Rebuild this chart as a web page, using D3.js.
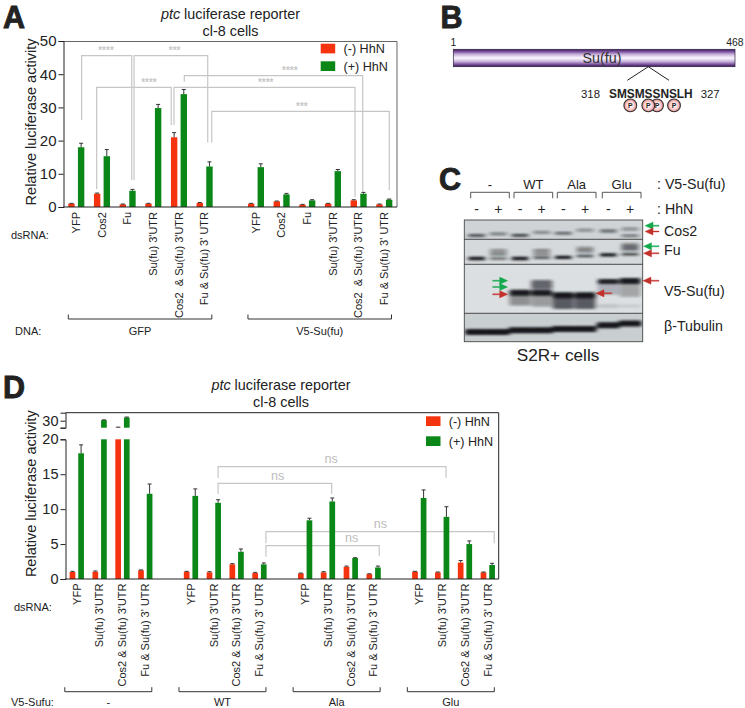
<!DOCTYPE html>
<html><head><meta charset="utf-8">
<script src="https://cdn.jsdelivr.net/npm/d3@7"></script>
<style>
html,body{margin:0;padding:0;background:#fff}
svg{display:block}
text{font-family:"Liberation Sans",Arial,sans-serif;fill:#222}
</style></head><body><svg id="c" width="745" height="708" viewBox="0 0 745 708"></svg>
<script>
// ---------- Panel A data ----------
const aLabels=["YFP","Cos2","Fu","Su(fu) 3'UTR","Cos2  & Su(fu) 3'UTR","Fu & Su(fu) 3' UTR"];
const aSlots=[0,1,2,3,4,5,7,8,9,10,11,12];
const aMinus=[1,4,0.8,1,21,1.2,1,1.7,0.7,1,2,0.8];
const aMinusErr=[0.1,0.2,0.1,0.1,1.4,0.15,0.1,0.1,0.1,0.1,0.2,0.1];
const aPlus=[18,15.3,4.9,29.8,34,12.2,12,3.8,2,10.8,4,2.2];
const aPlusErr=[1.2,2,0.4,1.1,1.4,1.4,1,0.3,0.2,0.5,0.4,0.2];
const aGroups=[["GFP",0,5],["V5-Su(fu)",7,12]];
// bracket: left slot, side, left foot value, top value, right slot, side, right foot value, mark, mark slot
const aBrackets=[
 [0,1.1,26.2,45.6,2,0.85,8.1,"****",1.157],
 [2,1.33,8.1,45.6,5,0.64,19.4,"***",3.83],
 [1,-1.1,5.4,36.05,4,-1.6,24.7,"****",2.83],
 [4,-1.03,24.7,36.05,11,-0.75,3,"****",7.38],
 [4,1.1,37.7,39.55,11,0.85,4.6,"****",8.32],
 [5,1.47,19.4,28.8,12,1.03,5.1,"***",8.79]
];
// ---------- Panel D data ----------
const dLabels=["YFP","Su(fu) 3'UTR","Cos2 & Su(fu) 3'UTR","Fu & Su(fu) 3' UTR"];
const dSlots=[0,1,2,3,5,6,7,8,10,11,12,13,15,16,17,18];
const dMinus=[1,1.05,25.2,1.25,1.05,0.95,2.1,0.85,0.8,0.95,1.75,0.7,1.05,0.95,2.35,0.95];
const dMinusErr=[0.1,0.1,0.2,0.05,0.05,0.1,0.1,0.1,0.05,0.1,0.1,0.05,0.05,0.05,0.3,0.05];
const dPlus=[18,30.4,32.3,12.2,11.9,10.9,3.9,2.1,8.4,11.1,3,1.65,11.6,8.9,5,2];
const dPlusErr=[1.2,0.2,0.3,1.4,1,0.45,0.4,0.2,0.3,0.5,0.05,0.2,1.15,1.45,0.45,0.25];
const dGroups=[["-",0,3],["WT",5,8],["Ala",10,13],["Glu",15,18]];
const dBrackets=[
 [6,1,14.46,16.08,16,0.9,14.46,"ns",11.14],
 [6,1,12.17,13.7,11,0.87,12.17,"ns",8.8],
 [8,1.5,5.11,6.77,18,1.5,5.11,"ns",13.3],
 [8,1.5,3.19,4.77,13,1.3,3.34,"ns",12.04]
];
const legendNames=["(-) HhN","(+) HhN"];
// ---------- Panel B data ----------
const seqResidues="SMSMSSNSLH";
const phosphoSites=[630.3,674,657,648.3];
// ---------- Panel C data ----------
const lanes=[0,1,2,3,4,5,6,7];
const laneCentres=[476.7,498.3,520,541.7,563.3,585,608.3,630];
const cHeads=["-","WT","Ala","Glu"];
// rows: [y0,y1]; bands: lane, fraction of row, height, opacity
const rowEdges=[[220,239.3],[239.3,264.3],[264.3,313.3],[313.3,341.7]];
const cos2Bands=[[0,.8,2.6,.8],[1,.72,2.8,.5],[2,.8,2.8,.8],[3,.64,2.8,.45],[4,.69,2.6,.65],[5,.53,3,.4],[6,.57,2.8,.6],[7,.47,3,.4],[7,.82,2,.65]];
const fuBands=[[0,.77,3.6,1],[1,.45,3,.4],[1,.59,3,.5],[1,.77,2.6,.6],[2,.77,3.4,1],[3,.45,3,.45],[3,.59,3,.45],[3,.74,2.6,.7],
 [4,.72,3.2,1],[5,.36,3,.4],[5,.47,3,.45],[5,.67,2.6,.75],[6,.62,3.2,1],[7,.24,4,.5],[7,.38,4,.55],[7,.6,2.6,.8]];
const v5Bands=[[2,.58,6,.98],[2,.72,12,.4],[3,.58,6,.98],[3,.41,9,.6],[3,.74,12,.35],[4,.63,6,1],[4,.77,14,.65],[5,.63,6,1],[5,.77,14,.65],
 [6,.35,5,.95],[6,.5,12,.22],[7,.34,6,.98],[7,.52,14,.3],[6,.85,4,.12],[7,.85,3,.1]];
const tubBands=[[0,.66,6,1],[1,.66,6,1],[2,.6,6,1],[3,.6,6,1],[4,.55,6,1],[5,.55,6,1],[6,.42,6,1],[7,.36,6,1]];

const RED="#f5330e",GREEN="#0a8717",GREY="#c6c6c6";
const FONT_TICK=11;
const svg=d3.select("#c");
const defs=svg.append("defs");

function txt(g,x,y,s,size,o={}){
  const t=g.append("text").attr("x",x).attr("y",y).attr("font-size",size)
   .attr("text-anchor",o.anchor||"start").text(s);
  if(o.weight)t.attr("font-weight",o.weight);
  if(o.fill)t.style("fill",o.fill);
  return t;
}
function panelLetter(g,x,y,s){
  txt(g,x,y,s,30.5,{weight:"bold"}).attr("stroke","#222").attr("stroke-width",.9);
}
function title(g,cx,y1,y2){
  const t=g.append("text").attr("x",cx).attr("y",y1).attr("text-anchor","middle").attr("font-size",14.4);
  t.append("tspan").attr("font-style","italic").text("ptc");
  t.append("tspan").text(" luciferase reporter");
  txt(g,cx,y2,"cl-8 cells",14.4,{anchor:"middle"});
}
function bars(g,slots,vals,errs,color,off,w,x,y){
  const idx=d3.range(vals.length);
  g.append("g").selectAll("rect").data(idx).join("rect")
   .attr("x",i=>x(slots[i])+off-w/2).attr("width",w)
   .attr("y",i=>y(vals[i])).attr("height",i=>y(0)-y(vals[i])).attr("fill",color);
  const e=g.append("g").attr("stroke","#333").attr("stroke-width",1).attr("fill","none");
  e.selectAll("path").data(idx).join("path").attr("d",i=>{
    const c=x(slots[i])+off,t=y(vals[i]+errs[i]),b=y(vals[i]);
    return `M${c},${b}V${t}M${c-2},${t}H${c+2}`;
  });
}
function bracketMarks(g,list,x,y,off,markFn){
  const b=g.append("g");
  b.selectAll("path").data(list).join("path")
   .attr("fill","none").attr("stroke",GREY).attr("stroke-width",1.2)
   .attr("d",d=>{
     const xa=x(d[0])+d[1]*off,xb=x(d[4])+d[5]*off;
     return `M${xa},${y(d[2])}V${y(d[3])}H${xb}V${y(d[6])}`;
   });
  list.forEach(d=>markFn(b,x(d[8]),y(d[3]),d[7]));
}
function catLabels(g,slots,labels,x,y0){
  const n=labels.length;
  g.append("g").selectAll("text").data(slots).join("text")
   .attr("transform",(s)=>`translate(${x(s)+3.8},${y0}) rotate(-90)`)
   .attr("text-anchor","end").attr("font-size",FONT_TICK)
   .style("white-space","pre")
   .text((s,i)=>labels[i%n]);
}
function groupBrackets(g,groups,x,y,padL,padR,yl){
  groups.forEach(([name,a,b])=>{
    const x0=x(a)-padL,x1=x(b)+padR;
    g.append("path").attr("fill","none").attr("stroke","#333").attr("stroke-width",1)
     .attr("d",`M${x0},${y-4.5}V${y}H${x1}V${y-4.5}`);
    txt(g,(x0+x1)/2,yl,name,11,{anchor:"middle"});
  });
}
function legend(g,x,y1,y2,textX){
  [[y1,RED],[y2,GREEN]].forEach(([yy,c],i)=>{
    g.append("rect").attr("x",x).attr("y",yy).attr("width",14.5).attr("height",9.7).attr("fill",c);
    txt(g,textX,yy+9.7,legendNames[i],12.6);
  });
}
function axisStyle(a,size){
  a.select(".domain").attr("stroke","#222");
  a.selectAll(".tick line").attr("stroke","#222");
  a.selectAll(".tick text").attr("font-size",size).attr("font-family",'"Liberation Sans",Arial,sans-serif').style("fill","#222");
}
// ---------- Panel A ----------
{
  const g=svg.append("g");
  panelLetter(g,3,27.6,"A");
  title(g,230.5,19,36);
  const x=d3.scaleLinear().domain([0,12]).range([76.3,384.3]);
  const y=d3.scaleLinear().domain([0,50]).range([207,41]);
  const off=4.83,w=6.4;
  g.append("path").attr("fill","none").attr("stroke","#666").attr("stroke-width",1)
   .attr("d",`M63.5,41.5H397V207`);
  bracketMarks(g,aBrackets,x,y,off,(b,cx,cy,s)=>{
    txt(b,cx,cy-1.8,s,10,{anchor:"middle",fill:"#c8c8c8",weight:"bold"});
  });
  bars(g,aSlots,aMinus,aMinusErr,RED,-off,w,x,y);
  bars(g,aSlots,aPlus,aPlusErr,GREEN,off,w,x,y);
  const ax=g.append("g").attr("transform","translate(63.5,0)").call(d3.axisLeft(y).tickValues([0,10,20,30,40,50]).tickSize(5).tickPadding(2));
  axisStyle(ax,15);
  g.append("line").attr("x1",63).attr("x2",397).attr("y1",207).attr("y2",207).attr("stroke","#222").attr("stroke-width",1.2);
  g.append("text").attr("transform","translate(36,122) rotate(-90)").attr("text-anchor","middle").attr("font-size",14.5).text("Relative luciferase activity");
  legend(g,320.7,43.7,61.3,343.5);
  catLabels(g,aSlots,aLabels,x,212);
  txt(g,11,239,"dsRNA:",11);
  txt(g,15,334.8,"DNA:",11);
  groupBrackets(g,aGroups,x,319,8,7.2,334.8);
}
// ---------- Panel B ----------
{
  const g=svg.append("g");
  panelLetter(g,440.5,27.6,"B");
  const gr=defs.append("linearGradient").attr("id","pb").attr("x1",0).attr("x2",0).attr("y1",0).attr("y2",1);
  [[0,"#3a2050"],[.1,"#6b3f8f"],[.3,"#c9b3dc"],[.5,"#fbf8fd"],[.7,"#c9b3dc"],[.9,"#6b3f8f"],[1,"#2e1b40"]]
   .forEach(([o,c])=>gr.append("stop").attr("offset",o).attr("stop-color",c));
  const aa=d3.scaleLinear().domain([1,468]).range([453.3,735]);
  g.append("rect").attr("x",aa(1)).attr("y",49.3).attr("width",aa(468)-aa(1)).attr("height",17.4).attr("fill","url(#pb)").attr("stroke","#2e2140").attr("stroke-width",.7);
  txt(g,450.5,45.6,"1",10.4);
  txt(g,743.5,45.6,"468",10.4,{anchor:"end"});
  txt(g,602,63,"Su(fu)",14.3,{anchor:"middle",fill:"#333"});
  g.append("path").attr("fill","none").attr("stroke","#222").attr("stroke-width",1).attr("d","M627.3,80.3L648.3,66.7L669,80.3");
  txt(g,581,98,"318",11.4);
  txt(g,609,98,seqResidues,11.86,{weight:"bold"});
  txt(g,700.7,98,"327",11.4);
  const rg=defs.append("radialGradient").attr("id","pc");
  [[0,"#fff"],[.55,"#fbd9d9"],[1,"#e88484"]].forEach(([o,c])=>rg.append("stop").attr("offset",o).attr("stop-color",c));
  phosphoSites.forEach(cx=>{
    g.append("circle").attr("cx",cx).attr("cy",105.4).attr("r",6.4).attr("fill","url(#pc)").attr("stroke","#333").attr("stroke-width",1.1);
    txt(g,cx,108,"P",6.8,{anchor:"middle",weight:"bold"});
  });
}
// ---------- Panel C ----------
{
  const g=svg.append("g");
  panelLetter(g,439,189.5,"C");
  const blur=defs.append("filter").attr("id","bl").attr("x","-20%").attr("y","-150%").attr("width","140%").attr("height","400%");
  blur.append("feGaussianBlur").attr("stdDeviation","2 1.25");
  const laneX=d3.scaleOrdinal().domain(lanes).range(laneCentres);
  const rows=[cos2Bands,fuBands,v5Bands,tubBands];
  const bgs=["#cfd3d6","#d6d9db","#dcdfe1","#c9ced1"];
  rows.forEach((bands,r)=>{
    const [a,b]=rowEdges[r];
    const id="cl"+r;
    defs.append("clipPath").attr("id",id).append("rect").attr("x",464.3).attr("y",a).attr("width",178.4).attr("height",b-a);
    const f=d3.scaleLinear().domain([0,1]).range([a,b]);
    const rg=g.append("g").attr("clip-path",`url(#${id})`);
    rg.append("rect").attr("x",464.3).attr("y",a).attr("width",178.4).attr("height",b-a).attr("fill",bgs[r]);
    rg.append("g").attr("filter","url(#bl)").selectAll("rect").data(bands).join("rect")
      .attr("x",d=>laneX(d[0])-(r===3?11.5:(r===2?10.5:8.5))).attr("width",r===3?23:(r===2?21:17))
      .attr("y",d=>f(d[1])-d[2]/2).attr("height",d=>d[2]).attr("rx",1.5)
      .attr("fill","#13171b").attr("opacity",d=>d[3]);
  });
  g.append("rect").attr("x",464.3).attr("y",220).attr("width",178.4).attr("height",121.7).attr("fill","none").attr("stroke","#444").attr("stroke-width",.9);
  rowEdges.slice(1).forEach(([a])=>g.append("line").attr("x1",464.3).attr("x2",642.7).attr("y1",a).attr("y2",a).attr("stroke","#333").attr("stroke-width",.9));
  // headers
  cHeads.forEach((s,i)=>{
    const x0=laneCentres[i*2]-6,x1=laneCentres[i*2+1]+11;
    g.append("path").attr("fill","none").attr("stroke","#444").attr("stroke-width",.9)
     .attr("d",`M${x0},198.3V192.3H${x1}V198.3`);
    txt(g,(x0+x1)/2,188.7,s,13,{anchor:"middle"});
  });
  lanes.forEach(l=>txt(g,laneX(l),214,l%2?"+":"-",14,{anchor:"middle"}));
  txt(g,657,189,": V5-Su(fu)",14.2);
  txt(g,657,214,": HhN",14.2);
  txt(g,664,235.7,"Cos2",14.2);
  txt(g,664,255,"Fu",14.2);
  txt(g,664,295.7,"V5-Su(fu)",14.2);
  txt(g,664,330.7,"β-Tubulin",14.2);
  txt(g,558,361,"S2R+ cells",17.2,{anchor:"middle"});
  const arrow=(tip,tail,yy,c)=>{
    const d=tail>tip?1:-1,h=tip+d*8;
    g.append("path").attr("fill",c).attr("stroke",c).attr("stroke-width",.4)
     .attr("d",`M${tip},${yy}L${h},${yy-3.6}V${yy-.5}H${tail}V${yy+.5}H${h}V${yy+3.6}Z`);
  };
  const ag="#12a84c",ar="#c2302b";
  arrow(645,659,225.7,ag);arrow(645,659,231.5,ar);
  arrow(643.5,659,246.3,ag);arrow(643.5,659,253.3,ar);
  arrow(643,659,280.7,ar);arrow(596,611.7,293.3,ar);
  arrow(507.7,492.7,280.7,ag);arrow(507.7,492.7,287,ag);arrow(507.7,492.7,294.3,ar);
}
// ---------- Panel D ----------
{
  const g=svg.append("g");
  panelLetter(g,3,397.6,"D");
  title(g,281,390,406.7);
  const x=d3.scaleLinear().domain([0,18]).range([76.8,487.8]);
  const yL=d3.scaleLinear().domain([0,20]).range([579,439.3]);
  const yU=d3.scaleLinear().domain([25,35.7]).range([427.7,412.7]);
  const y=v=>v<=20?yL(v):yU(v);
  const off=4.3,w=5.7;
  g.append("path").attr("fill","none").attr("stroke","#222").attr("stroke-width",1)
   .attr("d","M65.5,412.7H498.7V579");
  bracketMarks(g,dBrackets,x,yL,off,(b,cx,cy,s)=>{
    txt(b,cx,cy-3.3,s,12.6,{anchor:"middle",fill:"#bdbdbd"});
  });
  const drawSeries=(vals,errs,color,o)=>{
    const idx=d3.range(vals.length);
    const s=g.append("g").attr("fill",color);
    s.selectAll("rect.low").data(idx).join("rect").attr("class","low")
     .attr("x",i=>x(dSlots[i])+o-w/2).attr("width",w)
     .attr("y",i=>yL(Math.min(vals[i],20))).attr("height",i=>yL(0)-yL(Math.min(vals[i],20)));
    s.selectAll("rect.up").data(idx.filter(i=>vals[i]>20)).join("rect").attr("class","up")
     .attr("x",i=>x(dSlots[i])+o-w/2).attr("width",w)
     .attr("y",i=>yU(vals[i])).attr("height",i=>yU(25)-yU(vals[i]));
    g.append("g").attr("stroke","#333").attr("fill","none").selectAll("path").data(idx).join("path")
     .attr("d",i=>{
       const c=x(dSlots[i])+o,t=y(vals[i]+errs[i]),b=y(vals[i]);
       return `M${c},${b}V${t}M${c-2},${t}H${c+2}`;
     });
  };
  drawSeries(dMinus,dMinusErr,RED,-off);
  drawSeries(dPlus,dPlusErr,GREEN,off);
  const a1=g.append("g").attr("transform","translate(65.5,0)").call(d3.axisLeft(yL).tickValues([0,5,10,15,20]).tickSize(5).tickPadding(2));
  axisStyle(a1,14.5);
  const a2=g.append("g").attr("transform","translate(65.5,0)").call(d3.axisLeft(yU).tickValues([25,30]).tickSize(5).tickPadding(2).tickFormat(d=>d===30?"30":""));
  axisStyle(a2,14.5);
  g.append("line").attr("x1",65).attr("x2",498.7).attr("y1",579).attr("y2",579).attr("stroke","#222").attr("stroke-width",1.2);
  g.append("text").attr("transform","translate(36,493.7) rotate(-90)").attr("text-anchor","middle").attr("font-size",14.5).text("Relative luciferase activity");
  legend(g,426,416.3,436.3,448.7);
  catLabels(g,dSlots,dLabels,x,583.5);
  txt(g,14,610.5,"dsRNA:",11);
  txt(g,11,706,"V5-Sufu:",11);
  groupBrackets(g,dGroups,x,691.7,12,6.5,706);
}
</script></body></html>
